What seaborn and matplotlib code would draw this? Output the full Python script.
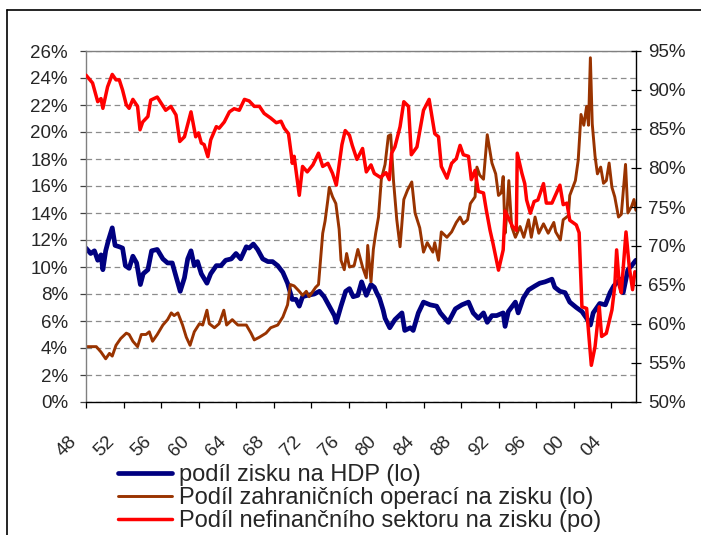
import matplotlib.pyplot as plt
import matplotlib.ticker as mtick
from matplotlib.lines import Line2D
from matplotlib.transforms import ScaledTranslation
import seaborn as sns
import pandas as pd

# podil zisku na HDP (leva osa, %)
hdp_rok = [1948.0, 1948.5, 1948.9, 1949.25, 1949.6, 1949.8, 1950.1, 1950.4, 1950.8, 1951.1,
           1951.55, 1951.9, 1952.2, 1952.6, 1953.0, 1953.4, 1953.8, 1954.1, 1954.6, 1955.0,
           1955.6, 1956.2, 1956.7, 1957.2, 1957.6, 1958.05, 1958.5, 1958.85, 1959.2, 1959.55,
           1959.9, 1960.3, 1960.9, 1961.3, 1961.9, 1962.4, 1962.9, 1963.5, 1964.0, 1964.5,
           1965.1, 1965.4, 1965.85, 1966.3, 1966.85, 1967.4, 1967.9, 1968.45, 1969.0, 1969.5,
           1970.0, 1970.4, 1970.75, 1971.1, 1971.6, 1972.35, 1972.9, 1973.4, 1973.95, 1974.5,
           1974.7, 1975.2, 1975.7, 1976.1, 1976.5, 1977.0, 1977.4, 1977.9, 1978.4, 1978.75,
           1979.0, 1979.3, 1979.7, 1979.9, 1980.4, 1980.95, 1981.7, 1982.0, 1982.6, 1982.9,
           1983.45, 1984.0, 1984.7, 1985.4, 1985.8, 1986.65, 1987.4, 1988.1, 1988.8, 1989.3,
           1989.85, 1990.4, 1990.8, 1991.3, 1991.8, 1992.5, 1992.7, 1993.05, 1993.8, 1994.1,
           1994.65, 1995.2, 1995.9, 1996.4, 1996.96, 1997.7, 1998.0, 1998.55, 1999.1, 1999.6,
           2000.3, 2000.9, 2001.4, 2001.8, 2002.1, 2002.8, 2003.4, 2003.9, 2004.3, 2005.0,
           2005.3, 2005.8, 2006.2, 2006.65]
hdp_val = [11.4, 11.0, 11.2, 10.5, 10.9, 9.8, 11.2, 12.0, 12.9, 11.6,
           11.5, 11.4, 10.1, 9.9, 10.8, 10.3, 8.7, 9.5, 9.8, 11.2,
           11.3, 10.6, 10.3, 10.3, 9.3, 8.2, 9.2, 10.6, 11.2, 10.1,
           10.4, 9.5, 8.8, 9.5, 10.1, 10.1, 10.5, 10.6, 11.0, 10.6,
           11.5, 11.4, 11.7, 11.3, 10.6, 10.4, 10.4, 10.1, 9.6, 8.8,
           7.6, 7.6, 7.1, 7.8, 7.9, 8.0, 8.2, 7.8, 7.1, 6.4,
           5.9, 7.1, 8.2, 8.4, 7.8, 7.9, 8.9, 7.9, 8.7, 8.5,
           8.1, 7.7, 6.8, 6.2, 5.5, 6.1, 6.6, 5.3, 5.5, 5.3,
           6.6, 7.4, 7.2, 7.1, 6.6, 5.9, 6.9, 7.2, 7.4, 6.6,
           6.2, 6.6, 5.9, 6.4, 6.4, 6.6, 5.6, 6.7, 7.4, 6.6,
           7.7, 8.3, 8.6, 8.8, 8.9, 9.1, 8.5, 8.2, 8.1, 7.4,
           7.0, 6.7, 6.2, 5.7, 6.6, 7.3, 7.2, 8.1, 8.6, 9.1,
           8.1, 9.8, 10.1, 10.5]

# podil zahranicnich operaci na zisku (leva osa, %)
zahr_rok = [1948.0, 1949.1, 1949.6, 1950.1, 1950.5, 1950.8, 1951.2, 1951.7, 1952.3, 1952.6,
            1953.0, 1953.5, 1953.9, 1954.4, 1954.75, 1955.1, 1955.6, 1956.2, 1956.7, 1957.1,
            1957.4, 1957.8, 1958.3, 1958.7, 1959.1, 1959.55, 1960.1, 1960.45, 1960.9, 1961.15,
            1961.7, 1962.2, 1962.7, 1963.0, 1963.6, 1964.2, 1965.1, 1965.6, 1965.95, 1966.5,
            1967.2, 1967.7, 1968.45, 1969.0, 1969.5, 1969.8, 1970.2, 1970.75, 1971.1, 1971.5,
            1971.8, 1972.5, 1972.8, 1973.25, 1973.5, 1973.8, 1973.95, 1974.3, 1974.65, 1975.0,
            1975.2, 1975.55, 1975.8, 1976.1, 1976.6, 1977.0, 1977.5, 1977.9, 1978.05, 1978.4,
            1978.65, 1978.9, 1979.2, 1979.5, 1979.9, 1980.25, 1980.5, 1980.8, 1981.15, 1981.5,
            1981.9, 1982.3, 1982.75, 1983.1, 1983.6, 1984.0, 1984.4, 1985.0, 1985.2, 1985.6,
            1985.9, 1986.5, 1987.0, 1987.5, 1987.9, 1988.25, 1988.7, 1989.0, 1989.5, 1989.7,
            1990.0, 1990.4, 1990.8, 1991.3, 1991.7, 1992.0, 1992.3, 1992.5, 1992.7, 1992.9,
            1993.1, 1993.4, 1993.8, 1994.3, 1994.7, 1995.2, 1995.5, 1995.9, 1996.3, 1996.8,
            1997.3, 1997.9, 1998.1, 1998.6, 1998.9, 1999.45, 1999.6, 2000.2, 2000.5, 2000.8,
            2001.1, 2001.4, 2001.6, 2001.8, 2002.0, 2002.3, 2002.55, 2002.9, 2003.2, 2003.5,
            2003.8, 2004.1, 2004.4, 2004.8, 2005.1, 2005.55, 2005.8, 2006.2, 2006.45, 2006.65]
zahr_val = [4.1, 4.1, 3.7, 3.2, 3.6, 3.4, 4.2, 4.7, 5.1, 5.0,
            4.5, 4.1, 5.0, 5.0, 5.2, 4.5, 5.0, 5.7, 6.1, 6.6,
            6.4, 6.6, 5.7, 4.8, 4.2, 5.2, 5.8, 5.7, 6.8, 5.8,
            5.5, 5.8, 6.8, 5.7, 6.1, 5.7, 5.7, 5.1, 4.6, 4.8,
            5.1, 5.5, 5.7, 6.3, 7.2, 8.7, 8.6, 8.2, 7.9, 8.2,
            7.8, 8.5, 8.7, 12.5, 13.4, 15.0, 15.9, 15.2, 14.7, 12.8,
            10.5, 9.8, 11.0, 10.0, 10.1, 11.3, 10.0, 9.2, 11.6, 8.9,
            11.3, 12.5, 13.7, 16.5, 17.6, 19.7, 19.8, 16.4, 13.5, 11.5,
            15.0, 15.7, 16.3, 14.0, 12.9, 11.1, 11.8, 11.1, 11.8, 10.5,
            12.6, 12.2, 12.6, 13.3, 13.7, 13.2, 13.5, 14.7, 15.2, 17.4,
            16.8, 16.5, 19.8, 17.7, 16.9, 15.3, 15.5, 16.7, 12.5, 14.0,
            16.4, 13.0, 12.2, 13.0, 12.2, 13.5, 12.2, 13.7, 12.5, 13.2,
            12.5, 13.3, 12.6, 12.0, 13.5, 13.8, 15.3, 16.4, 17.9, 21.3,
            20.5, 21.9, 20.5, 25.5, 20.6, 18.2, 16.9, 17.4, 16.2, 16.4,
            17.7, 15.9, 15.2, 13.7, 13.9, 17.6, 14.0, 14.5, 15.0, 14.2]

# podil nefinancniho sektoru na zisku (prava osa, %)
nefin_rok = [1948.0, 1948.7, 1949.25, 1949.6, 1949.8, 1950.3, 1950.8, 1951.2, 1951.55, 1951.9,
             1952.3, 1952.6, 1953.0, 1953.5, 1953.76, 1954.05, 1954.6, 1954.9, 1955.6, 1956.5,
             1957.05, 1957.6, 1958.0, 1958.5, 1959.2, 1959.7, 1960.0, 1960.3, 1960.6, 1961.0,
             1961.3, 1961.9, 1962.2, 1962.75, 1963.3, 1963.8, 1964.35, 1964.9, 1965.4, 1965.95,
             1966.5, 1967.0, 1967.7, 1968.3, 1968.8, 1969.15, 1969.6, 1969.9, 1970.0, 1970.2,
             1970.75, 1971.1, 1971.6, 1972.2, 1972.8, 1973.25, 1973.8, 1974.3, 1974.7, 1975.3,
             1975.65, 1976.1, 1976.4, 1976.9, 1977.5, 1977.9, 1978.4, 1978.75, 1979.4, 1980.0,
             1980.35, 1980.6, 1980.95, 1981.5, 1981.9, 1982.4, 1982.7, 1983.3, 1984.0, 1984.6,
             1985.2, 1985.6, 1985.9, 1986.5, 1987.0, 1987.5, 1987.9, 1988.25, 1988.8, 1989.1,
             1989.5, 1989.85, 1990.4, 1990.7, 1991.1, 1991.4, 1992.0, 1992.5, 1992.7, 1993.1,
             1993.5, 1993.9, 1994.0, 1994.5, 1994.8, 1995.0, 1995.4, 1995.8, 1996.2, 1996.8,
             1997.1, 1997.7, 1998.55, 1998.9, 1999.3, 1999.6, 2000.3, 2000.6, 2000.9, 2001.4,
             2001.9, 2002.3, 2002.75, 2003.0, 2003.5, 2004.1, 2004.4, 2004.6, 2004.9, 2005.1,
             2005.6, 2005.95, 2006.3, 2006.55]
nefin_val = [91.9, 90.9, 88.5, 88.9, 87.65, 90.4, 92.0, 91.3, 91.3, 90.0,
             88.1, 87.65, 88.8, 87.9, 84.9, 85.9, 86.6, 88.7, 89.1, 87.4,
             87.9, 86.8, 83.4, 84.0, 87.2, 84.0, 84.5, 83.2, 83.0, 81.45,
             83.6, 85.3, 85.1, 85.9, 87.2, 87.6, 87.4, 88.8, 88.6, 87.9,
             87.9, 87.0, 86.4, 85.8, 86.0, 85.1, 84.4, 81.7, 80.6, 81.5,
             76.5, 80.2, 79.5, 80.4, 81.9, 80.2, 80.6, 79.3, 77.8, 83.0,
             84.8, 84.2, 82.9, 81.1, 82.5, 79.5, 80.4, 79.3, 78.8, 79.4,
             78.5, 81.9, 82.7, 85.3, 88.5, 87.9, 81.7, 82.7, 87.4, 88.8,
             84.4, 84.0, 80.2, 78.7, 80.6, 81.2, 82.9, 81.7, 81.5, 78.5,
             79.7, 77.0, 76.8, 74.6, 72.0, 70.4, 66.9, 69.5, 74.5, 73.5,
             72.5, 72.0, 81.9, 79.3, 78.0, 75.9, 74.2, 75.7, 75.9, 78.0,
             75.5, 75.5, 77.8, 75.3, 75.5, 73.3, 72.7, 71.7, 62.2, 62.0,
             54.7, 57.1, 62.2, 58.4, 58.8, 61.8, 64.8, 69.5, 64.8, 64.0,
             71.8, 67.3, 64.4, 66.7]

popisky = ['podíl zisku na HDP (lo)',
           'Podíl zahraničních operací na zisku (lo)',
           'Podíl nefinančního sektoru na zisku (po)']
roky_ticks = list(range(1948, 2005, 4))
roky_labels = ['%02d' % (r % 100) for r in roky_ticks]

df_hdp = pd.DataFrame({'rok': hdp_rok, 'podil': hdp_val})
df_zahr = pd.DataFrame({'rok': zahr_rok, 'podil': zahr_val})
df_nefin = pd.DataFrame({'rok': nefin_rok, 'podil': nefin_val})

sns.set_style("white")
plt.rcParams['font.family'] = ['Liberation Sans', 'DejaVu Sans']

fig = plt.figure(figsize=(7.01, 5.35), dpi=100)
ax = fig.add_axes([86/701, 133/535, 550/701, 351/535])
ax2 = ax.twinx()

sns.lineplot(data=df_hdp, x='rok', y='podil', ax=ax, color='#000080', lw=3.4,
             estimator=None, legend=False)
sns.lineplot(data=df_zahr, x='rok', y='podil', ax=ax, color='#993300', lw=2.1,
             estimator=None, legend=False)
sns.lineplot(data=df_nefin, x='rok', y='podil', ax=ax2, color='#FF0000', lw=2.5,
             estimator=None, legend=False)

ax.set_xlim(1948, 1948 + 550/9.375)
ax.set_ylim(0, 26)
ax2.set_ylim(50, 95)
ax.set_yticks(range(0, 27, 2))
ax2.set_yticks(range(50, 96, 5))
ax.yaxis.set_major_formatter(mtick.PercentFormatter(decimals=0))
ax2.yaxis.set_major_formatter(mtick.PercentFormatter(decimals=0))
ax.set_xticks(roky_ticks)
ax.set_xticklabels(roky_labels)
ax.set_xlabel('')
ax.set_ylabel('')
ax2.set_ylabel('')

ax.yaxis.grid(True, color='#8c8c8c', lw=0.9, linestyle=(0, (4.5, 3.0)))
ax.xaxis.grid(False)
ax2.grid(False)

for s in ['top', 'left']:
    ax.spines[s].set_color('#808080')
ax.spines['bottom'].set_color('black')
ax.spines['right'].set_visible(False)
for s in ['top', 'left', 'bottom']:
    ax2.spines[s].set_visible(False)
ax2.spines['right'].set_color('black')
for s in ax.spines.values():
    s.set_linewidth(1.0)
ax2.spines['right'].set_linewidth(1.0)

ax.tick_params(axis='y', direction='out', length=4.5, width=0.9, color='#404040',
               labelsize=13.5, pad=8.5, left=True)
ax.tick_params(axis='x', direction='out', length=4.5, width=0.9, color='black',
               labelsize=13.5, pad=17.5, bottom=True)
ax2.tick_params(axis='y', direction='inout', length=7, width=0.9, color='black',
                labelsize=13.5, pad=5, right=True)

for lab in ax.get_xticklabels():
    lab.set_rotation(45)
    lab.set_ha('right')
    lab.set_rotation_mode('anchor')
    lab.set_transform(lab.get_transform() + ScaledTranslation(-13/72, 0, fig.dpi_scale_trans))

# ramecek grafu
fig.add_artist(Line2D([7/701, 7/701], [0, 1 - 10/535], color='black', lw=1.2,
                      transform=fig.transFigure))
fig.add_artist(Line2D([7/701, 1], [1 - 10/535, 1 - 10/535], color='black', lw=1.2,
                      transform=fig.transFigure))

handles = [ax.lines[0], ax.lines[1], ax2.lines[0]]
fig.legend(handles, popisky, loc='upper left', bbox_to_anchor=(118/701, 1 - 464/535),
           frameon=False, fontsize=17, handlelength=2.3, handletextpad=0.3,
           labelspacing=0.05, borderpad=0, borderaxespad=0)

fig.savefig('out.png', dpi=100)
